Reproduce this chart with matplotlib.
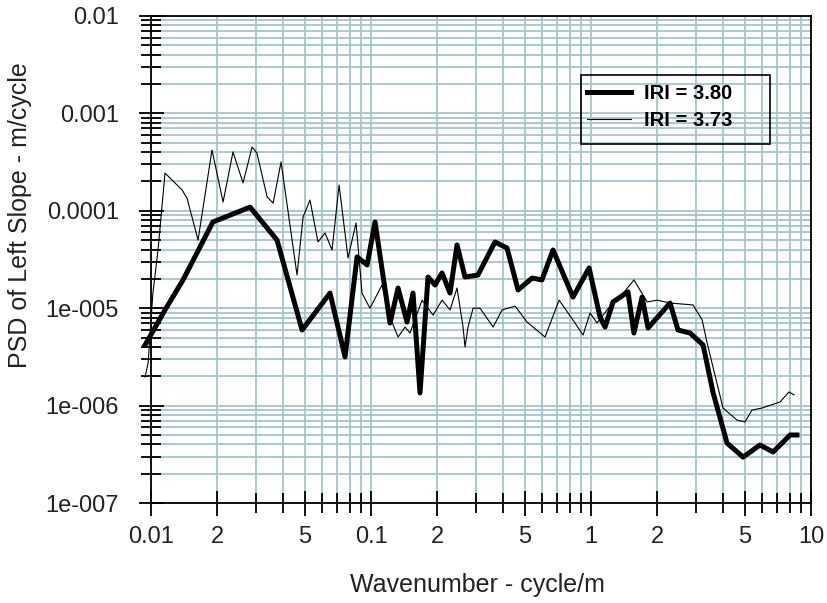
import matplotlib
matplotlib.use("Agg")
import matplotlib.pyplot as plt
from matplotlib.patches import Rectangle
from matplotlib.ticker import LogLocator, FixedLocator, FixedFormatter, NullFormatter

plt.rcParams['font.family'] = ['Liberation Sans', 'DejaVu Sans']

# IRI = 3.80 (thick line)
k_thick = [0.0094, 0.01158, 0.01398, 0.0167, 0.0191, 0.0282, 0.0374, 0.0486, 0.0651,
           0.0762, 0.0864, 0.096, 0.1043, 0.122, 0.1327, 0.1458, 0.1552, 0.167, 0.1816,
           0.1954, 0.2103, 0.2286, 0.246, 0.2675, 0.306, 0.366, 0.415, 0.466, 0.54, 0.598,
           0.672, 0.828, 0.98, 1.099, 1.158, 1.259, 1.472, 1.567, 1.706, 1.816, 2.286,
           2.485, 2.82, 3.23, 3.59, 4.15, 4.91, 5.86, 6.72, 8.03, 8.63]
psd_thick = [4.19e-6, 9.6e-6, 1.95e-5, 4.25e-5, 7.67e-5, 1.09e-4, 5.0e-5, 5.97e-6, 1.43e-5,
             3.16e-6, 3.36e-5, 2.78e-5, 7.67e-5, 7.05e-6, 1.61e-5, 7.2e-6, 1.43e-5, 1.35e-6, 2.09e-5,
             1.73e-5, 2.30e-5, 1.43e-5, 4.46e-5, 2.09e-5, 2.19e-5, 4.78e-5, 4.15e-5, 1.54e-5, 2.04e-5, 1.95e-5,
             3.96e-5, 1.30e-5, 2.59e-5, 8.1e-6, 6.4e-6, 1.16e-5, 1.47e-5, 5.56e-6, 1.30e-5, 6.26e-6, 1.13e-5,
             5.97e-6, 5.56e-6, 4.19e-6, 1.35e-6, 4.13e-7, 2.96e-7, 3.94e-7, 3.34e-7, 4.99e-7, 4.99e-7]

# IRI = 3.73 (thin line)
k_thin = [0.0094, 0.0097, 0.0102, 0.01076, 0.01158, 0.01383, 0.01458, 0.01636, 0.01893,
          0.02126, 0.02359, 0.0262, 0.0288, 0.0303, 0.0337, 0.0359, 0.039, 0.0461, 0.0491,
          0.0528, 0.0574, 0.0618, 0.0665, 0.0716, 0.0786, 0.0855, 0.091, 0.0989, 0.1122,
          0.122, 0.1327, 0.1428, 0.1504, 0.1706, 0.1914, 0.2103, 0.2286, 0.246, 0.262,
          0.2675, 0.276, 0.291, 0.313, 0.359, 0.394, 0.452, 0.512, 0.618, 0.716, 0.828,
          0.92, 0.99, 1.065, 1.2, 1.355, 1.567, 1.8, 2.0, 2.286, 2.91, 3.2, 3.37, 3.98,
          4.61, 5.01, 5.39, 5.99, 7.23, 7.94, 8.37]
psd_thin = [1.97e-6, 2.74e-6, 1.43e-5, 3.96e-5, 2.44e-4, 1.64e-4, 1.35e-4, 5.0e-5, 4.21e-4,
            1.23e-4, 4.02e-4, 1.93e-4, 4.52e-4, 3.92e-4, 1.39e-4, 1.20e-4, 3.17e-4, 2.19e-5, 8.63e-5,
            1.29e-4, 4.78e-5, 5.92e-5, 3.96e-5, 1.84e-4, 3.28e-5, 7.5e-5, 1.43e-5, 1.0e-5, 1.73e-5,
            8.1e-6, 5.06e-6, 6.4e-6, 5.56e-6, 1.21e-5, 8.5e-6, 1.21e-5, 9.6e-6, 1.61e-5, 6.4e-6,
            4.0e-6, 6.4e-6, 1.0e-5, 1.0e-5, 6.4e-6, 9.6e-6, 1.05e-5, 7.2e-6, 5.06e-6, 1.21e-5, 7.56e-6,
            5.3e-6, 8.93e-6, 7.05e-6, 1.0e-5, 1.30e-5, 1.95e-5, 1.16e-5, 1.21e-5, 1.13e-5, 1.08e-5, 7.56e-6, 4.4e-6, 9.45e-7,
            7.1e-7, 6.8e-7, 9.0e-7, 9.45e-7, 1.09e-6, 1.38e-6, 1.29e-6]

x_ticks = [0.01, 0.02, 0.05, 0.1, 0.2, 0.5, 1, 2, 5, 10]
x_labels = ["0.01", "2", "5", "0.1", "2", "5", "1", "2", "5", "10"]
y_ticks = [1e-7, 1e-6, 1e-5, 1e-4, 1e-3, 1e-2]
y_labels = ["1e-007", "1e-006", "1e-005", "0.0001", "0.001", "0.01"]

fig = plt.figure(figsize=(8.27, 6.03), dpi=100)
ax = fig.add_axes([0.1826, 0.1658, 0.7981, 0.8077])
ax.set_xscale("log")
ax.set_yscale("log")
ax.set_xlim(0.01, 10)
ax.set_ylim(1e-7, 1e-2)

grid_col = "#a3c6cd"
ax.grid(True, which="both", color=grid_col, linewidth=1.3)
ax.set_axisbelow(True)

ax.plot(k_thick, psd_thick, color="black", linewidth=3.6, label="IRI = 3.80", clip_on=False,
        solid_joinstyle="round")
ax.plot(k_thin, psd_thin, color="black", linewidth=0.8, label="IRI = 3.73", clip_on=False)

ax.xaxis.set_major_locator(FixedLocator(x_ticks))
ax.xaxis.set_major_formatter(FixedFormatter(x_labels))
ax.xaxis.set_minor_locator(LogLocator(base=10, subs=range(2, 10), numticks=20))
ax.xaxis.set_minor_formatter(NullFormatter())
ax.yaxis.set_major_locator(FixedLocator(y_ticks))
ax.yaxis.set_major_formatter(FixedFormatter(y_labels))
ax.yaxis.set_minor_locator(LogLocator(base=10, subs=range(2, 10), numticks=20))
ax.yaxis.set_minor_formatter(NullFormatter())

ax.tick_params(which="major", direction="inout", length=18, width=1.3, color="black",
               labelsize=17, labelcolor="#222222")
ax.tick_params(which="minor", direction="inout", length=15, width=1.3, color="black")
ax.tick_params(axis="x", which="major", pad=7.5)
ax.tick_params(axis="y", which="major", pad=14)

for s in ax.spines.values():
    s.set_linewidth(1.3)
    s.set_color("black")

ax.set_xlabel("Wavenumber - cycle/m", fontsize=18, color="#222222")
ax.set_ylabel("PSD of Left Slope - m/cycle", fontsize=18, color="#222222")
ax.xaxis.set_label_coords(0.495, -0.144)
ax.yaxis.set_label_coords(-0.18, 0.591)

# legend box drawn separately (reference box has more room below the entries)
ax.add_patch(Rectangle((0.6515, 0.737), 0.2865, 0.142, transform=ax.transAxes,
                       facecolor="none", edgecolor="black", linewidth=1.2, zorder=5))
leg = ax.legend(loc="upper left", bbox_to_anchor=(0.6606, 0.860), frameon=False,
                handlelength=2.2, handletextpad=0.65, borderpad=0, borderaxespad=0,
                labelspacing=0.38, prop={"weight": "bold", "size": 14.5})

fig.savefig("out.png", dpi=100)
